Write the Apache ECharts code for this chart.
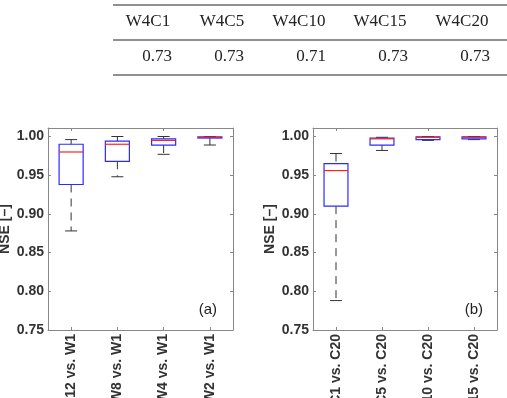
<!DOCTYPE html>
<html>
<head>
<meta charset="utf-8">
<script src="https://cdn.jsdelivr.net/npm/echarts@6/dist/echarts.min.js"></script>
<style>
  html, body { margin: 0; padding: 0; background: #fff; }
  #chart { width: 507px; height: 398px; }
</style>
</head>
<body>
<div id="chart"></div>
<script>
// table above the plots
const tableHeaders = ['W4C1', 'W4C5', 'W4C10', 'W4C15', 'W4C20'];
const tableValues = ['0.73', '0.73', '0.71', '0.73', '0.73'];

// panel (a)
const catsA = ['W12 vs. W1', 'W8 vs. W1', 'W4 vs. W1', 'W2 vs. W1'];
// [min, q1, median, q3, max]
const boxA = [
  [0.878, 0.938, 0.980, 0.990, 0.996],
  [0.948, 0.968, 0.990, 0.994, 1.000],
  [0.977, 0.989, 0.995, 0.997, 1.000],
  [0.989, 0.998, 0.999, 0.9995, 1.000]
];

// panel (b)
const catsB = ['C1 vs. C20', 'C5 vs. C20', 'C10 vs. C20', 'C15 vs. C20'];
const boxB = [
  [0.788, 0.910, 0.956, 0.965, 0.978],
  [0.982, 0.989, 0.997, 0.998, 0.999],
  [0.995, 0.996, 0.999, 0.9995, 1.000],
  [0.996, 0.997, 0.999, 0.9995, 1.000]
];

const yTicks = { min: 0.75, max: 1.011, interval: 0.05 };

const chart = echarts.init(document.getElementById('chart'));

const textColor = '#333';
const frameColor = '#888';

const renderBox = (params, api) => {
  const x = api.value(0);
  const lo = api.coord([x, api.value(1)]);
  const q1 = api.coord([x, api.value(2)]);
  const med = api.coord([x, api.value(3)]);
  const q3 = api.coord([x, api.value(4)]);
  const hi = api.coord([x, api.value(5)]);
  const cx = lo[0];
  const w = api.size([1, 0])[0] * 0.52;
  const cap = w / 2;
  const dash = { stroke: '#333', lineWidth: 1, lineDash: [8, 6] };
  const solid = { stroke: '#333', lineWidth: 1 };
  return {
    type: 'group',
    children: [
      { type: 'line', shape: { x1: cx, y1: hi[1], x2: cx, y2: q3[1] }, style: dash },
      { type: 'line', shape: { x1: cx, y1: q1[1], x2: cx, y2: lo[1] }, style: dash },
      { type: 'line', shape: { x1: cx - cap / 2, y1: hi[1], x2: cx + cap / 2, y2: hi[1] }, style: solid },
      { type: 'line', shape: { x1: cx - cap / 2, y1: lo[1], x2: cx + cap / 2, y2: lo[1] }, style: solid },
      { type: 'rect', shape: { x: cx - w / 2, y: q3[1], width: w, height: q1[1] - q3[1] },
        style: { fill: 'none', stroke: '#2b2bff', lineWidth: 1.2 } },
      { type: 'line', shape: { x1: cx - w / 2, y1: med[1], x2: cx + w / 2, y2: med[1] },
        style: { stroke: '#ff2020', lineWidth: 1.2 } }
    ]
  };
};

const grids = [
  { left: 48, top: 128, width: 185, height: 202, outerBoundsMode: 'none', containLabel: false },
  { left: 313, top: 128, width: 184, height: 202, outerBoundsMode: 'none', containLabel: false }
];

const makeX = (cats, gi, pos) => ({
  type: 'category',
  gridIndex: gi,
  position: pos,
  data: cats,
  boundaryGap: true,
  axisLine: { show: true, lineStyle: { color: frameColor } },
  axisTick: { show: true, inside: true, length: 3, alignWithLabel: true, lineStyle: { color: frameColor } },
  axisLabel: pos === 'bottom' ? {
    show: true, rotate: 90, margin: 4, interval: 0,
    fontFamily: 'Liberation Sans', fontWeight: 'bold', fontSize: 14, color: textColor
  } : { show: false },
  splitLine: { show: false }
});

const makeY = (gi, pos) => ({
  type: 'value',
  gridIndex: gi,
  position: pos,
  min: yTicks.min,
  max: yTicks.max,
  interval: yTicks.interval,
  name: pos === 'left' ? 'NSE [–]' : '',
  nameLocation: 'middle',
  nameGap: 36,
  nameTextStyle: { fontFamily: 'Liberation Sans', fontWeight: 'bold', fontSize: 14, color: textColor },
  axisLine: { show: true, lineStyle: { color: frameColor } },
  axisTick: { show: true, inside: true, length: 3, lineStyle: { color: frameColor } },
  axisLabel: pos === 'left' ? {
    show: true, margin: 4, showMaxLabel: false,
    fontFamily: 'Liberation Sans', fontWeight: 'bold', fontSize: 14, color: textColor,
    formatter: v => (v > 1.0001 ? '' : v.toFixed(2))
  } : { show: false },
  splitLine: { show: false }
});

const tableLeft = 113;
const tableRight = 507;
const headerX = [148, 222, 299, 380, 462];
const valueRight = [172, 244, 326, 408, 490];

const graphic = [];
[5, 40, 75].forEach(y => {
  graphic.push({
    type: 'line',
    shape: { x1: tableLeft, y1: y, x2: tableRight, y2: y },
    style: { stroke: '#222', lineWidth: 1.2 }
  });
});
tableHeaders.forEach((h, i) => {
  graphic.push({
    type: 'text', x: headerX[i], y: 22,
    style: { text: h, fill: '#222', font: '17px "Liberation Serif"', textAlign: 'center', textVerticalAlign: 'middle' }
  });
});
tableValues.forEach((v, i) => {
  graphic.push({
    type: 'text', x: valueRight[i], y: 57,
    style: { text: v, fill: '#222', font: '17px "Liberation Serif"', textAlign: 'right', textVerticalAlign: 'middle' }
  });
});
graphic.push({
  type: 'text', x: 217, y: 310,
  style: { text: '(a)', fill: '#222', font: '15px "Liberation Sans"', textAlign: 'right', textVerticalAlign: 'middle' }
});
graphic.push({
  type: 'text', x: 483, y: 310,
  style: { text: '(b)', fill: '#222', font: '15px "Liberation Sans"', textAlign: 'right', textVerticalAlign: 'middle' }
});

const toData = arr => arr.map((d, i) => [i].concat(d));

chart.setOption({
  animation: false,
  backgroundColor: '#fff',
  grid: grids,
  xAxis: [makeX(catsA, 0, 'bottom'), makeX(catsA, 0, 'top'), makeX(catsB, 1, 'bottom'), makeX(catsB, 1, 'top')],
  yAxis: [makeY(0, 'left'), makeY(0, 'right'), makeY(1, 'left'), makeY(1, 'right')],
  graphic: graphic,
  series: [
    {
      type: 'custom', xAxisIndex: 0, yAxisIndex: 0,
      renderItem: renderBox, encode: { x: 0, y: [1, 2, 3, 4, 5] },
      data: toData(boxA), clip: false
    },
    {
      type: 'custom', xAxisIndex: 2, yAxisIndex: 2,
      renderItem: renderBox, encode: { x: 0, y: [1, 2, 3, 4, 5] },
      data: toData(boxB), clip: false
    }
  ]
});
</script>
</body>
</html>
